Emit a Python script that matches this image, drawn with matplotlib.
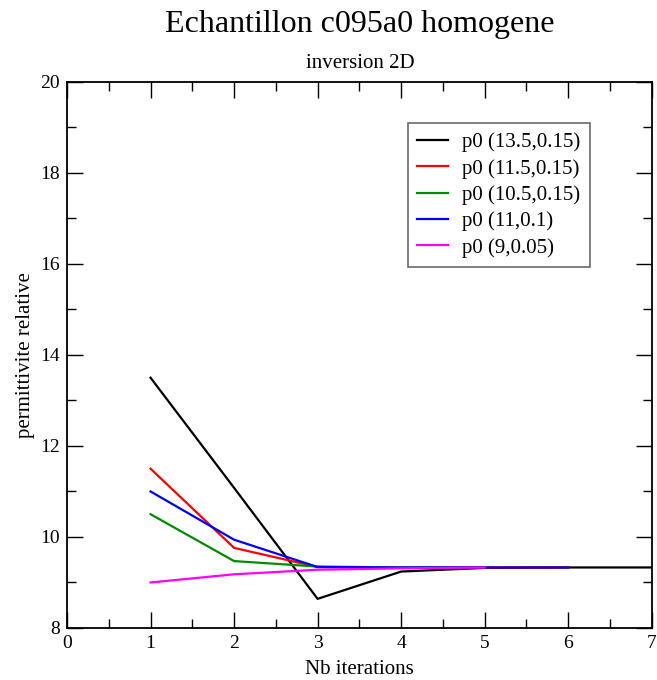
import matplotlib.pyplot as plt
from matplotlib.ticker import MultipleLocator

plt.rcParams["font.family"] = ["Liberation Serif", "DejaVu Serif"]

# iterations and relative permittivity per starting point
labels = ["p0 (13.5,0.15)", "p0 (11.5,0.15)", "p0 (10.5,0.15)", "p0 (11,0.1)", "p0 (9,0.05)"]
colors = ["black", "#ff0000", "#008b00", "#0000ff", "#ff00ff"]
iters = [
    [1, 2, 3, 4, 5, 6, 7],
    [1, 2, 3, 4, 5, 6],
    [1, 2, 3, 4, 5],
    [1, 2, 3, 4, 5, 6],
    [1, 2, 3, 4, 5],
]
perm = [
    [13.5, 11.08, 8.64, 9.24, 9.32, 9.33, 9.33],
    [11.5, 9.76, 9.34, 9.33, 9.33, 9.33],
    [10.5, 9.47, 9.35, 9.33, 9.33],
    [11.0, 9.94, 9.34, 9.33, 9.33, 9.33],
    [9.0, 9.18, 9.28, 9.31, 9.33],
]

fig = plt.figure(figsize=(6.57, 6.8), dpi=100)
ax = fig.add_axes([0.102, 0.0765, 0.890, 0.8030])

for x, y, c, lab in zip(iters, perm, colors, labels):
    ax.plot(x, y, color=c, lw=1.6, label=lab)

ax.set_xlim(0, 7)
ax.set_ylim(8, 20)
ax.xaxis.set_major_locator(MultipleLocator(1))
ax.xaxis.set_minor_locator(MultipleLocator(0.5))
ax.yaxis.set_major_locator(MultipleLocator(2))
ax.yaxis.set_minor_locator(MultipleLocator(1))
ax.tick_params(which="both", direction="in", top=True, right=True, labelsize=14)
ax.tick_params(which="major", length=11.5, width=1, pad=5)
ax.tick_params(which="minor", length=6.5, width=1)
for s in ax.spines.values():
    s.set_linewidth(1.3)

ax.set_xlabel("Nb iterations", fontsize=15, labelpad=6)
ax.set_ylabel("permittivite relative", fontsize=15, labelpad=3.5)

fig.text(0.548, 0.953, "Echantillon c095a0 homogene", ha="center", va="baseline", fontsize=23)
fig.text(0.548, 0.900, "inversion 2D", ha="center", va="baseline", fontsize=15)

leg = ax.legend(loc="upper left", bbox_to_anchor=(408 / 657, 1 - 123 / 680),
                bbox_transform=fig.transFigure, fontsize=15, frameon=True,
                fancybox=False, handlelength=1.45, handletextpad=0.7,
                labelspacing=0.32, borderpad=0.45, borderaxespad=0)
leg.get_frame().set_edgecolor("#444444")
leg.get_frame().set_linewidth(1.2)

plt.savefig("out.png", dpi=100)
